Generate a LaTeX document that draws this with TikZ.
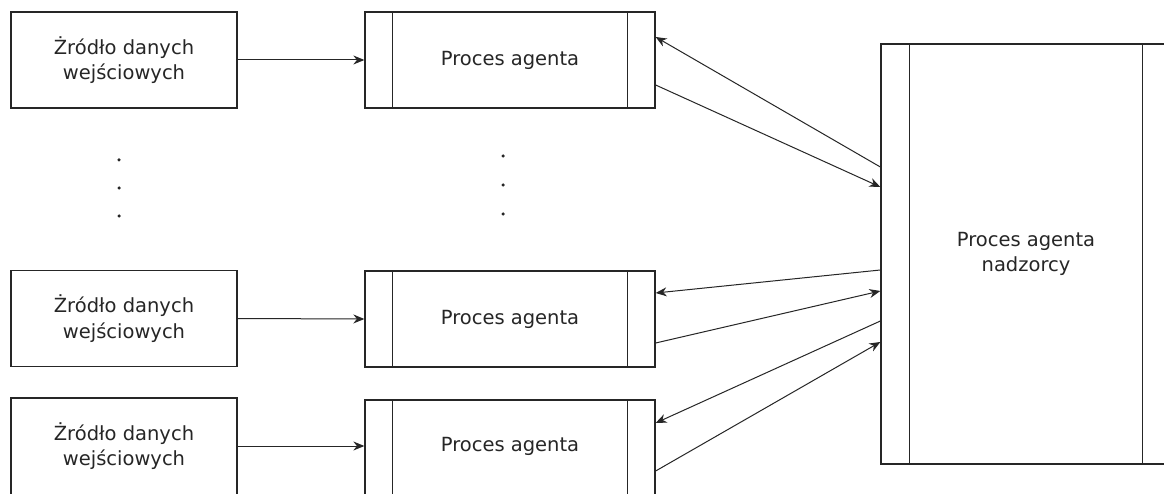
\documentclass[tikz,border=0pt]{standalone}
\usepackage{fontspec}
\setmainfont{DejaVu Sans}
\usetikzlibrary{arrows.meta,calc}
\begin{document}
\begin{tikzpicture}[x=1pt,y=-1pt,
  txt/.style={font=\fontsize{19.5}{25.5}\selectfont,align=center,text=black!85},
  box/.style={txt,draw=black!85,line width=1.3pt,fill=white,inner sep=0pt},
  srcbox/.style={box,minimum width=226pt,minimum height=96pt},
  agbox/.style={box,minimum width=290pt,minimum height=96pt},
  conn/.style={draw=black!85,line width=1pt,-{Stealth[length=11pt,width=9pt]}},
  strip/.style={draw=black!85,line width=1.3pt},
  dot/.style={fill=black!85,circle,inner sep=0pt,minimum size=3.5pt}]
\useasboundingbox (0,0) rectangle (1164,494);
\clip (0,0) rectangle (1164,494);
\fill[white] (0,0) rectangle (1164,494);

% sources
\node[srcbox] (s1) at (124,60) {Żródło danych\\wejściowych};
\node[srcbox] (s2) at (124,318.5) {Żródło danych\\wejściowych};
\node[srcbox,minimum height=99pt] (s3) at (124,447.5) {};
\node[txt] (s3t) at (124,446) {Żródło danych\\wejściowych};

% agents
\node[agbox] (a1) at (510,60) {Proces agenta};
\node[agbox] (a2) at (510,319) {Proces agenta};
\node[agbox,minimum height=97pt] (a3) at (510,448.5) {};
\node[txt] (a3t) at (510,446) {Proces agenta};
\foreach \a in {a1,a2,a3}{
  \draw[strip] ($(\a.north west)+(28,0)$) -- ($(\a.south west)+(28,0)$);
  \draw[strip] ($(\a.north east)+(-28,0)$) -- ($(\a.south east)+(-28,0)$);
}

% supervisor
\node[box,minimum width=290pt,minimum height=420pt] (sup) at (1026,254) {Proces agenta\\nadzorcy};
\draw[strip] ($(sup.north west)+(29,0)$) -- ($(sup.south west)+(29,0)$);
\draw[strip] ($(sup.north east)+(-29,0)$) -- ($(sup.south east)+(-29,0)$);

% dots
\node[dot] (d1) at (119,160) {};
\node[dot] (d2) at (119,188) {};
\node[dot] (d3) at (119,216) {};
\node[dot] (d4) at (503,156) {};
\node[dot] (d5) at (503,185) {};
\node[dot] (d6) at (503,214) {};

% source -> agent
\draw[conn] (s1.east) -- (a1.west);
\draw[conn] (s2.east) -- (a2.west);
\draw[conn] (s3.east |- s3t) -- (a3.west |- s3t);

% agent <-> supervisor
\coordinate (a1i) at ($(a1.east)+(0,-23)$);
\coordinate (a1o) at ($(a1.east)+(0,25)$);
\coordinate (a2i) at ($(a2.east)+(0,-26)$);
\coordinate (a2o) at ($(a2.east)+(0,24)$);
\coordinate (a3i) at ($(a3.east)+(0,-25.5)$);
\coordinate (a3o) at ($(a3.east)+(0,22.5)$);
\coordinate (p1) at (sup.west |- 0,167);
\coordinate (q1) at (sup.west |- 0,187);
\coordinate (p2) at (sup.west |- 0,270);
\coordinate (q2) at (sup.west |- 0,291);
\coordinate (p3) at (sup.west |- 0,321);
\coordinate (q3) at (sup.west |- 0,342);
\draw[conn] (p1) -- (a1i);
\draw[conn] (a1o) -- (q1);
\draw[conn] (p2) -- (a2i);
\draw[conn] (a2o) -- (q2);
\draw[conn] (p3) -- (a3i);
\draw[conn] (a3o) -- (q3);
\end{tikzpicture}
\end{document}
